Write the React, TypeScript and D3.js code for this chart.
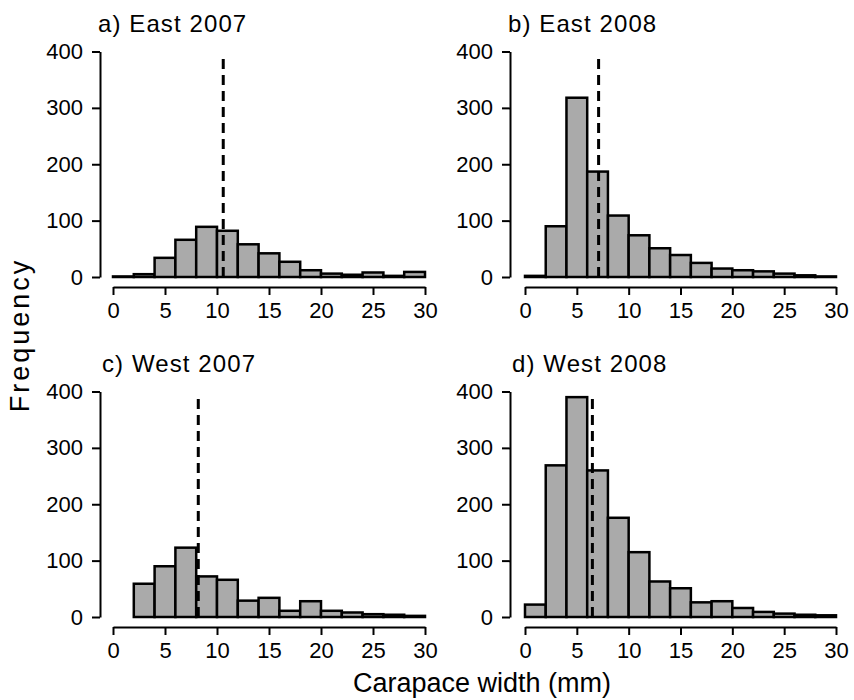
import React, { useEffect, useRef } from 'react';
import * as d3 from 'd3';

// bin edges (mm), 2 mm wide
const binStarts = [0, 2, 4, 6, 8, 10, 12, 14, 16, 18, 20, 22, 24, 26, 28];
const binWidth = 2;

// counts per bin
const east2007 = [1, 5, 34, 66, 89, 82, 58, 42, 27, 12, 6, 4, 8, 2, 9];
const east2008 = [2, 90, 318, 187, 109, 74, 51, 39, 25, 15, 12, 10, 6, 3, 1];
const west2007 = [0, 59, 90, 123, 72, 66, 29, 34, 11, 28, 11, 8, 5, 4, 2];
const west2008 = [22, 269, 390, 260, 176, 115, 63, 51, 26, 28, 16, 9, 6, 4, 3];

// mean carapace width (dashed line)
const means = [10.6, 7.1, 8.2, 6.5];
const titles = ['a) East 2007', 'b) East 2008', 'c) West 2007', 'd) West 2008'];
const series = [east2007, east2008, west2007, west2008];

const xTicks = [0, 5, 10, 15, 20, 25, 30];
const yTicks = [0, 100, 200, 300, 400];

const font = 'Liberation Sans, Arial, Helvetica, sans-serif';

export default function App() {
    const ref = useRef<SVGSVGElement>(null);

    useEffect(() => {
        const svg = d3.select(ref.current);
        svg.selectAll('*').remove();

        // panel positions: y axis x, x range, y range, x axis y
        const cols = [{ axis: 100, x0: 113, x1: 425 }, { axis: 510, x0: 525, x1: 836 }];
        const rows = [{ y0: 277, y1: 51.5, xAxis: 287 }, { y0: 617, y1: 391.5, xAxis: 627 }];

        series.forEach((counts, i) => {
            const col = cols[i % 2], row = rows[Math.floor(i / 2)];
            const x = d3.scaleLinear().domain([0, 30]).range([col.x0, col.x1]);
            const y = d3.scaleLinear().domain([0, 400]).range([row.y0, row.y1]);
            const g = svg.append('g');

            // title
            g.append('text')
                .attr('x', col.axis - 2 + (i >= 2 ? 4 : 0))
                .attr('y', row.y1 - 20)
                .attr('font-size', 24)
                .attr('letter-spacing', 1.1)
                .text(titles[i]);

            // bars
            g.selectAll('rect')
                .data(counts)
                .enter().append('rect')
                .attr('x', (d, j) => x(binStarts[j]))
                .attr('width', (d, j) => x(binStarts[j] + binWidth) - x(binStarts[j]))
                .attr('y', d => y(d))
                .attr('height', d => y(0) - y(d))
                .attr('fill', '#aaaaaa')
                .attr('stroke', '#000')
                .attr('stroke-width', 2.5);

            // mean
            g.append('line')
                .attr('x1', x(means[i])).attr('x2', x(means[i]))
                .attr('y1', y(0)).attr('y2', y(390))
                .attr('stroke', '#000')
                .attr('stroke-width', 3)
                .attr('stroke-dasharray', '10,6');

            // x axis
            const xa = g.append('g')
                .attr('transform', `translate(0,${row.xAxis})`)
                .call(d3.axisBottom(x).tickValues(xTicks).tickSize(8).tickPadding(7).tickSizeOuter(0));
            xa.select('.domain').attr('stroke-width', 2);
            xa.selectAll('.tick line').attr('stroke-width', 2);
            xa.selectAll('text').attr('font-size', 22).attr('font-family', font).attr('fill', '#000');

            // y axis
            const ya = g.append('g')
                .attr('transform', `translate(${col.axis},0)`)
                .call(d3.axisLeft(y).tickValues(yTicks).tickSize(8).tickPadding(9).tickSizeOuter(0));
            ya.select('.domain').attr('stroke-width', 2);
            ya.selectAll('.tick line').attr('stroke-width', 2);
            ya.selectAll('text').attr('font-size', 22).attr('font-family', font).attr('fill', '#000');
        });

        svg.append('text')
            .attr('transform', 'translate(29,335) rotate(-90)')
            .attr('text-anchor', 'middle')
            .attr('font-size', 27)
            .attr('letter-spacing', 3)
            .text('Frequency');

        svg.append('text')
            .attr('x', 482)
            .attr('y', 692)
            .attr('text-anchor', 'middle')
            .attr('font-size', 27)
            .text('Carapace width (mm)');
    }, []);

    return (
        <svg ref={ref} width={854} height={700}
            style={{ position: 'absolute', left: 0, top: 0, background: '#fff' }}
            fontFamily={font} />
    );
}
